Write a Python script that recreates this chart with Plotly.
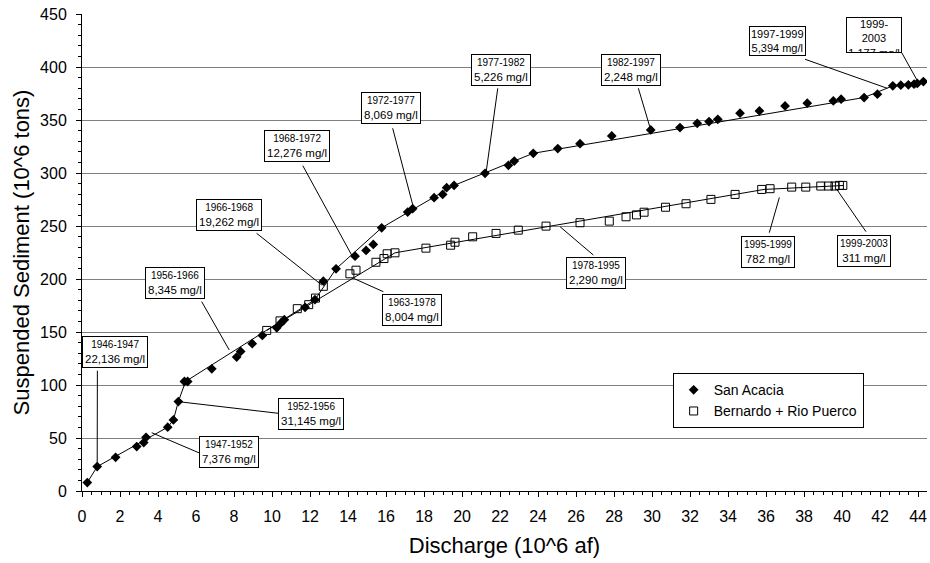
import plotly.graph_objects as go

# ---------------- data ----------------
# San Acacia: cumulative discharge (10^6 af) vs cumulative suspended sediment (10^6 tons)
sa_discharge = [0.28, 0.8, 1.77, 2.88, 3.25, 3.37, 4.51, 4.81, 5.07, 5.39, 5.56, 6.83, 8.14, 8.35,
                8.96, 9.49, 10.25, 10.47, 10.65, 11.74, 12.26, 12.70, 13.37, 14.37, 14.95, 15.33,
                15.77, 17.14, 17.40, 18.53, 18.98, 19.19, 19.58, 21.21, 22.44, 22.75, 23.75, 25.04,
                26.21, 27.88, 29.93, 31.47, 32.38, 33.0, 33.46, 34.63, 35.65, 37.0, 38.17, 39.54,
                39.95, 41.16, 41.86, 42.67, 43.09, 43.49, 43.79, 43.96, 44.28]
sa_sediment = [8, 23, 31.8, 41.9, 45.7, 50.7, 60.2, 67, 84.4, 103.3, 103.3, 115.3, 126.4, 131.7,
               139, 146.8, 154, 158.5, 161.6, 173.3, 180.5, 197.9, 209.6, 221.5, 226.9, 232.6,
               248.3, 263.1, 266.3, 276.7, 279.8, 286.1, 288.3, 299.7, 307.2, 311.3, 318.6, 323,
               327.7, 335, 340.6, 342.9, 346.9, 348.5, 350.7, 356.4, 358.6, 363.3, 365.9, 368,
               369.6, 371.2, 374.4, 382.2, 382.9, 383.2, 383.8, 384.5, 386.3]

# Bernardo + Rio Puerco
bm_discharge = [9.72, 10.42, 11.33, 11.93, 12.29, 12.70, 14.10, 14.42, 15.47, 15.89, 16.06, 16.47,
                18.10, 19.40, 19.63, 20.56, 21.79, 22.96, 24.42, 26.21, 27.75, 28.63, 29.18, 29.58,
                30.71, 31.79, 33.1, 34.37, 35.77, 36.21, 37.35, 38.09, 38.88, 39.28, 39.63, 39.86,
                40.04]
bm_sediment = [151.5, 160.5, 172, 175.8, 182, 193.1, 204.9, 208.3, 215.8, 219.3, 223.8, 224.7,
               229.1, 231.9, 234.7, 239.8, 243, 246.1, 249.9, 253.1, 254.6, 258.7, 260.5, 263,
               267.7, 271, 275.1, 279.8, 284.5, 285.2, 286.7, 286.7, 287.7, 287.7, 287.7, 288.3,
               288.3]

# piecewise trend lines (break points between periods)
sa_fit_x = [0.28, 0.8, 4.51, 4.81, 5.07, 5.45, 12.26, 13.37, 15.77, 19.58, 23.75, 41.16, 42.67, 44.28]
sa_fit_y = [8, 23, 60.2, 67, 84.4, 103.3, 180.5, 209.6, 248.3, 288.3, 318.6, 371.2, 382.2, 386.3]
bm_fit_x = [9.72, 16.47, 35.9, 38.9, 40.05]
bm_fit_y = [151.5, 224.7, 284.5, 287.6, 288.2]

x_ticks = list(range(0, 45, 2))
y_ticks = list(range(0, 451, 50))

# period labels
ann_period = ["1946-1947", "1947-1952", "1952-1956", "1956-1966", "1966-1968", "1968-1972",
              "1972-1977", "1977-1982", "1982-1997", "1997-1999", "1999-<br>2003",
              "1963-1978", "1978-1995", "1995-1999", "1999-2003"]
ann_rate = ["22,136 mg/l", "7,376 mg/l", "31,145 mg/l", "8,345 mg/l", "19,262 mg/l", "12,276 mg/l",
            "8,069 mg/l", "5,226 mg/l", "2,248 mg/l", "5,394 mg/l", "1,177 mg/l",
            "8,004 mg/l", "2,290 mg/l", "782 mg/l", "311 mg/l"]
# label box centres (data coords)
box_x = [1.76, 7.74, 12.03, 4.87, 7.76, 11.32, 16.26, 22.05, 28.89, 36.61, 41.68, 17.39, 27.03, 36.08, 41.18]
box_y = [131.6, 37.1, 72.2, 196.2, 260.4, 325.8, 361.3, 397.2, 396.9, 424.5, 430.2, 170.8, 206.1, 225.9, 226.4]
# leader lines: from box edge to curve
lead_x0 = [0.81, 6.21, 10.33, 6.3, 9.19, 11.62, 16.35, 21.88, 29.28, 38.05, 43.14, 15.86, 26.91, 36.17, 41.26]
lead_y0 = [113.5, 35.6, 73.3, 178.6, 243.1, 306.9, 342.2, 379.9, 379.9, 407.3, 413.5, 188.0, 222.6, 243.7, 244.6]
lead_x1 = [0.8, 3.67, 5.21, 7.75, 12.62, 14.19, 17.44, 21.26, 29.93, 42.38, 44.0, 14.28, 25.16, 36.7, 39.72]
lead_y1 = [23, 55.0, 84.0, 133, 194.3, 222.6, 267.6, 299.7, 340.6, 379.9, 385.8, 200.7, 249.3, 277, 284.6]

FONT = "Liberation Sans, Arial, sans-serif"

fig = go.Figure()
fig.add_trace(go.Scatter(x=sa_fit_x, y=sa_fit_y, mode="lines", line=dict(color="black", width=1),
                         showlegend=False, hoverinfo="skip"))
fig.add_trace(go.Scatter(x=bm_fit_x, y=bm_fit_y, mode="lines", line=dict(color="black", width=1),
                         showlegend=False, hoverinfo="skip"))
fig.add_trace(go.Scatter(x=sa_discharge, y=sa_sediment, mode="markers", name="San Acacia",
                         marker=dict(symbol="diamond", size=7.5, color="black", line=dict(width=0))))
fig.add_trace(go.Scatter(x=bm_discharge, y=bm_sediment, mode="markers", name="Bernardo + Rio Puerco",
                         marker=dict(symbol="square-open", size=8, color="black", line=dict(width=1))))

for i in range(len(ann_period)):
    fig.add_shape(type="line", xref="x", yref="y", x0=lead_x0[i], y0=lead_y0[i],
                  x1=lead_x1[i], y1=lead_y1[i], line=dict(color="black", width=1), layer="above")
    if i == 10:
        fig.add_annotation(x=box_x[i], y=box_y[i], xref="x", yref="y", showarrow=False,
                           text=f"{ann_period[i]}<br>{ann_rate[i]}", font=dict(size=11),
                           width=54, height=34, valign="top", borderpad=0,
                           bgcolor="white", bordercolor="black", borderwidth=1)
    elif i == 9:
        fig.add_annotation(x=box_x[i], y=box_y[i], xref="x", yref="y", showarrow=False,
                           text=f"{ann_period[i]}<br>{ann_rate[i]}", font=dict(size=11),
                           borderpad=1, bgcolor="white", bordercolor="black", borderwidth=1)
    else:
        fig.add_annotation(x=box_x[i], y=box_y[i], xref="x", yref="y", showarrow=False,
                           text=f"<span style='font-size:10px'>{ann_period[i]}</span><br>{ann_rate[i]}",
                           font=dict(size=11.5), borderpad=2,
                           bgcolor="white", bordercolor="black", borderwidth=1)

fig.update_layout(
    template="none",
    width=930, height=563,
    margin=dict(l=82, r=3, t=14, b=72),
    paper_bgcolor="white", plot_bgcolor="white",
    font=dict(family=FONT, color="black", size=16),
    showlegend=True,
    legend=dict(x=0.699, y=0.247, xanchor="left", yanchor="top", bgcolor="white",
                bordercolor="black", borderwidth=1, font=dict(size=14), itemwidth=30,
                tracegroupgap=0),
    xaxis=dict(range=[0, 44.47], tickmode="array", tickvals=x_ticks, ticks="outside", ticklen=5,
               tickcolor="black", showline=True, linecolor="black", linewidth=1, showgrid=False,
               zeroline=False, automargin=False, ticklabelstandoff=6,
               minor=dict(dtick=0.5, tick0=0, ticks="outside", ticklen=3, tickcolor="black", showgrid=False),
               title=dict(text="Discharge (10^6 af)", font=dict(size=22), standoff=13),
               tickfont=dict(size=16)),
    yaxis=dict(range=[0, 450], tickmode="array", tickvals=y_ticks, ticks="outside", ticklen=5,
               tickcolor="black", showline=True, linecolor="black", linewidth=1, showgrid=True,
               gridcolor="#808080", gridwidth=1, zeroline=False, automargin=False,
               ticklabelstandoff=6,
               minor=dict(dtick=10, tick0=0, ticks="outside", ticklen=3, tickcolor="black", showgrid=False),
               title=dict(text="Suspended Sediment (10^6 tons)", font=dict(size=22), standoff=4),
               tickfont=dict(size=16)),
)

fig.write_html("out.html")
